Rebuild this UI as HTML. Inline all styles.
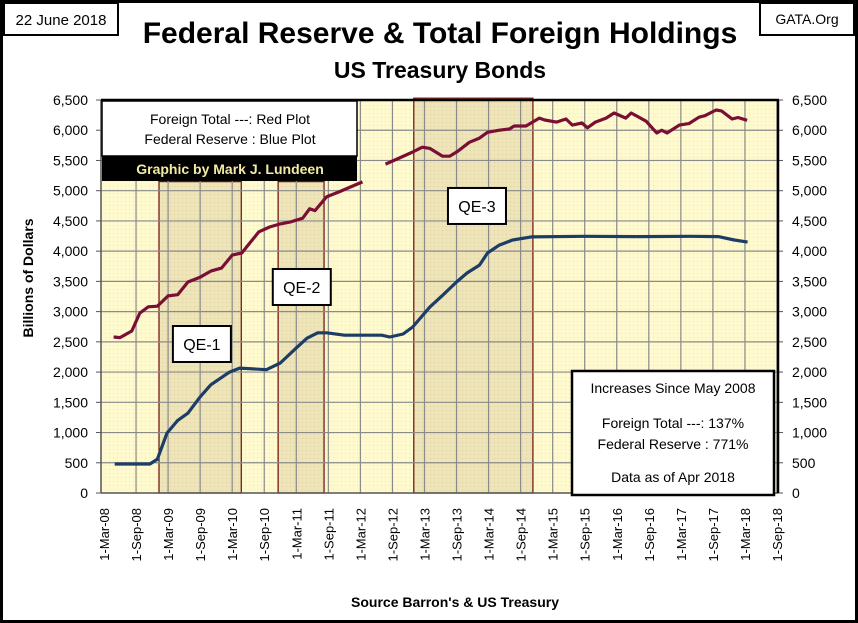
<!DOCTYPE html>
<html><head><meta charset="utf-8"><style>
html,body{margin:0;padding:0;background:#fff}
svg{display:block}
text{font-family:"Liberation Sans",sans-serif}
</style></head><body>
<svg id="chart" width="858" height="623" viewBox="0 0 858 623" xmlns="http://www.w3.org/2000/svg">
<defs>
<pattern id="dots" width="4" height="4" patternUnits="userSpaceOnUse">
<rect width="4" height="4" fill="#fffacd"/><rect x="1" y="1" width="1" height="1" fill="#ece6b8"/>
</pattern>
<pattern id="dots2" width="4" height="4" patternUnits="userSpaceOnUse">
<rect width="4" height="4" fill="#eee4b8"/><rect x="2" y="2" width="1" height="1" fill="#d8cfa2"/>
</pattern>
</defs>
<rect x="1.5" y="1.5" width="855" height="620" fill="#fff" stroke="#000" stroke-width="3"/>
<g id="plot"></g>
<text x="440" y="43" text-anchor="middle" font-size="30" font-weight="bold">Federal Reserve &amp; Total Foreign Holdings</text>
<text x="440" y="78" text-anchor="middle" font-size="23" font-weight="bold">US Treasury Bonds</text>
<rect x="4" y="3" width="114" height="32" fill="#fff" stroke="#000" stroke-width="2"/>
<text x="61" y="25" text-anchor="middle" font-size="15">22 June 2018</text>
<rect x="760" y="3" width="94" height="32" fill="#fff" stroke="#000" stroke-width="2"/>
<text x="807" y="24" text-anchor="middle" font-size="14">GATA.Org</text>
<text transform="translate(33,278) rotate(-90)" text-anchor="middle" font-size="14" font-weight="bold">Billions  of  Dollars</text>
<text x="455" y="607" text-anchor="middle" font-size="14" font-weight="bold">Source Barron's &amp; US Treasury</text>
</svg>
<script>
const yTicks=[0,500,1000,1500,2000,2500,3000,3500,4000,4500,5000,5500,6000,6500];
const xTickLabels=["1-Mar-08","1-Sep-08","1-Mar-09","1-Sep-09","1-Mar-10","1-Sep-10","1-Mar-11","1-Sep-11","1-Mar-12","1-Sep-12","1-Mar-13","1-Sep-13","1-Mar-14","1-Sep-14","1-Mar-15","1-Sep-15","1-Mar-16","1-Sep-16","1-Mar-17","1-Sep-17","1-Mar-18","1-Sep-18"];
// months since Mar 2008
const fedMonths=[2,8.6,10,11.8,13.8,15.7,18,20,23.5,25.4,30.4,33,36,38,40,41.7,45,52,53.5,56,57.8,61,63.4,66,68,70.3,71.8,74,76.5,80,90,100,110,115,118,120.5];
const fedValues=[480,480,560,990,1200,1320,1590,1790,2000,2065,2040,2150,2400,2560,2650,2650,2610,2610,2580,2630,2745,3075,3270,3490,3640,3770,3970,4100,4185,4235,4245,4240,4245,4240,4185,4150];
const forMonths=[1.8,3,5.2,6.7,8.3,10,12,13.8,15.7,18,20,22,24,25.8,27.3,29,31,33,34.8,37.2,38.5,39.5,41.7,44,48.4,null,52.7,55.3,57.8,59.6,61,63.4,64.7,66.2,68.4,70.3,71.8,74,75.9,76.8,79,81.5,82.5,84.7,86.5,87.7,89.5,90.5,92,94,95.5,97.7,98.7,101.5,103.5,104.4,105.4,107.7,109.5,111.4,112.5,114.6,115.6,117.6,118.7,120.4];
const forValues=[2580,2570,2680,2975,3080,3090,3260,3280,3490,3570,3670,3720,3935,3970,4135,4320,4400,4450,4480,4545,4700,4670,4900,4980,5145,null,5440,5540,5640,5720,5700,5570,5570,5650,5800,5870,5965,6000,6020,6070,6070,6200,6170,6135,6185,6085,6120,6040,6135,6200,6285,6200,6285,6150,5955,6000,5955,6085,6110,6215,6240,6335,6320,6185,6210,6165];
const qeNames=["QE-1","QE-2","QE-3"];
const qeStart=[10.3,32.6,58];
const qeEnd=[25.7,41.2,80.3];
const qeTop=[5150,5150,6530];
const qeLabelMonth=[12.9,31.6,64.4];
const qeLabelValue=[2762,3705,5045];

const L=101,R=778,T=100,B=493,YMAX=6500;
const X=m=>104+m*(777-104)/126;
const Y=v=>B-v/YMAX*(B-T);
const NS="http://www.w3.org/2000/svg";
const g=document.getElementById('plot');
function mk(tag,attrs,parent){const e=document.createElementNS(NS,tag);for(const k in attrs)e.setAttribute(k,attrs[k]);(parent||g).appendChild(e);return e;}

let bg=mk('rect',{x:L,y:T,width:R-L,height:B-T,fill:'url(#dots)'});



qeNames.forEach((n,i)=>{
  const r=mk('rect',{x:X(qeStart[i]),y:Y(qeTop[i]),width:X(qeEnd[i])-X(qeStart[i]),height:B-Y(qeTop[i]),fill:'url(#dots2)',stroke:'#6b0a0a','stroke-width':1.2});
  
  
});

xTickLabels.forEach((t,i)=>{
  const x=X(i*6);
  if(i>0){const l=mk('line',{x1:x,y1:T,x2:x,y2:B,stroke:'#8a8a8a','stroke-width':1.2});
  
  }
  const tx=mk('text',{transform:`translate(${x+5},508) rotate(-90)`,'text-anchor':'end','font-size':13});
  tx.textContent=t;
  
  
});
yTicks.forEach(v=>{
  const y=Y(v);
  if(v>0&&v<YMAX){const l=mk('line',{x1:L,y1:y,x2:R,y2:y,stroke:'#8a8a8a','stroke-width':1.2});
  
  }
  mk('line',{x1:L-5,y1:y,x2:L,y2:y,stroke:'#555'});
  mk('line',{x1:R,y1:y,x2:R+5,y2:y,stroke:'#555'});
  const s=v.toLocaleString('en-US');
  const a=mk('text',{x:88,y:y+5,'text-anchor':'end','font-size':14});a.textContent=s;
  
  
  const b=mk('text',{x:792,y:y+5,'font-size':14});b.textContent=s;
  
  
});
mk('line',{x1:L,y1:T,x2:L,y2:B,stroke:'#555','stroke-width':1.5});
mk('line',{x1:L,y1:B,x2:R,y2:B,stroke:'#555','stroke-width':1.5});
mk('line',{x1:L,y1:T,x2:R+1,y2:T,stroke:'#000','stroke-width':2.5});
mk('line',{x1:R,y1:T,x2:R,y2:B,stroke:'#000','stroke-width':2.5});

function path(ms,vs){let d='',pen=false;ms.forEach((m,i)=>{if(m===null||vs[i]===null){pen=false;return;}d+=(pen?'L':'M')+X(m).toFixed(1)+' '+Y(vs[i]).toFixed(1);pen=true;});return d;}
const fp=mk('path',{d:path(forMonths,forValues),fill:'none',stroke:'#7a0f35','stroke-width':3.2,'stroke-linejoin':'round'});


const bp=mk('path',{d:path(fedMonths,fedValues),fill:'none',stroke:'#1c3d66','stroke-width':3.2,'stroke-linejoin':'round'});



qeNames.forEach((n,i)=>{
  const cx=X(qeLabelMonth[i]),cy=Y(qeLabelValue[i]);
  const r=mk('rect',{x:cx,y:cy,width:58,height:36,fill:'#fff',stroke:'#000','stroke-width':2});
  
  
  const t=mk('text',{x:cx+29,y:cy+24,'text-anchor':'middle','font-size':16});t.textContent=n;
  
  
});

// legend box
const lb=mk('rect',{x:102,y:101,width:255,height:55,fill:'#fff',stroke:'#000','stroke-width':1.5});


const l1=mk('text',{x:230,y:124,'text-anchor':'middle','font-size':14});l1.textContent='Foreign Total ---: Red Plot';


const l2=mk('text',{x:230,y:144,'text-anchor':'middle','font-size':14});l2.textContent='Federal Reserve : Blue Plot';


const cb=mk('rect',{x:102,y:156,width:255,height:25,fill:'#000'});


const ct=mk('text',{x:230,y:174,'text-anchor':'middle','font-size':14,'font-weight':'bold',fill:'#f3eba0','font-family':'Liberation Serif, serif'});ct.textContent='Graphic by Mark J. Lundeen';



// info box
const ib=mk('rect',{x:572,y:371,width:202,height:124,fill:'#fff',stroke:'#000','stroke-width':2.5});


[["Increases Since May 2008",393],["Foreign Total ---:  137%",428],["Federal Reserve :  771%",449],["Data as of Apr 2018",482]].forEach(([s,y])=>{
  const t=mk('text',{x:673,y:y,'text-anchor':'middle','font-size':14});t.textContent=s;
  
  
});
</script>
</body></html>
